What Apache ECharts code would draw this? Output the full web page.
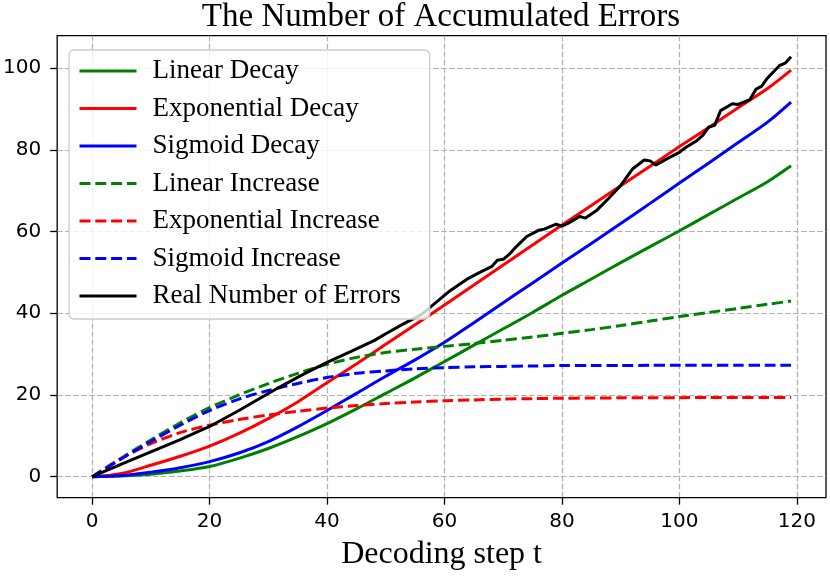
<!DOCTYPE html>
<html>
<head>
<meta charset="utf-8">
<script src="https://cdn.jsdelivr.net/npm/echarts@6/dist/echarts.min.js"></script>
<style>
html,body{margin:0;padding:0;background:#fff;}
#chart{width:830px;height:577px;}
</style>
</head>
<body>
<div id="chart"></div>
<script>
// ---- data ----
var steps = [0,5,10,15,20,25,30,35,40,45,50,55,60,65,70,75,80,85,90,95,100,105,110,115,119];
var linearDecay = [0,0.15,0.6,1.4,2.5,4.5,6.9,9.8,13.0,16.6,20.4,24.2,28.2,32.2,36.2,40.2,44.4,48.4,52.4,56.3,60.2,64.2,68.2,72.2,76.1];
var expDecay = [0,0.8,2.8,5.0,7.5,10.6,14.2,18.3,23.0,27.6,32.4,37.2,42.0,46.9,51.8,56.7,61.6,66.4,71.2,76.0,80.8,85.5,90.3,95.0,99.5];
var sigDecay = [0,0.3,1.1,2.2,3.7,5.8,8.6,12.2,16.2,20.4,24.6,28.6,32.9,37.7,42.6,47.4,52.3,57.1,62.0,66.9,71.9,76.8,81.8,86.8,91.7];
var linearInc = [0,4.6,9.0,13.2,16.9,20.0,22.8,25.3,27.5,29.2,30.4,31.2,31.9,32.6,33.4,34.2,35.1,36.0,37.0,38.1,39.2,40.2,41.2,42.2,43.0];
var expInc = [0,4.5,8.1,10.8,12.6,14.0,15.1,16.0,16.8,17.4,17.9,18.3,18.6,18.8,19.0,19.1,19.2,19.25,19.3,19.3,19.35,19.4,19.4,19.4,19.4];
var sigInc = [0,4.4,8.6,12.6,16.2,19.0,21.1,22.8,24.3,25.3,25.9,26.4,26.7,26.9,27.0,27.1,27.2,27.2,27.2,27.25,27.3,27.3,27.3,27.3,27.3];
var realSteps = [0,5,10,15,20,25,28,32,36,40,44,48,50,53,56,58,61,64,66,68,69,70,71,72,74,76,77,79,80,81,83,84,86,88,90,92,94,95,96,98,100,101,103,104,105,106,107,109,110,112,113,114,115,117,118,119];
var realErrors = [0,3.1,6.1,9.1,12.3,16.2,18.7,22.0,25.1,28.0,30.6,33.3,35.0,37.4,39.6,42.0,45.6,48.5,50.0,51.4,53.0,53.2,54.4,56.0,58.8,60.3,60.6,61.8,61.3,62.0,63.7,63.3,65.3,68.2,71.3,75.3,77.5,77.3,76.3,77.9,79.4,80.5,82.3,83.6,85.6,86.0,89.6,91.3,91.1,92.3,94.8,95.6,97.6,100.6,101.2,102.8];
var xTicks = [0,20,40,60,80,100,120];
var yTicks = [0,20,40,60,80,100];
var names = ['Linear Decay','Exponential Decay','Sigmoid Decay','Linear Increase','Exponential Increase','Sigmoid Increase','Real Number of Errors'];
var titleText = 'The Number of Accumulated Errors';
var xName = 'Decoding step t';

function pairs(xs, ys){ return xs.map(function(x,i){ return [x, ys[i]]; }); }

var serif = '"Liberation Serif", "Times New Roman", serif';
var LW = 3;
var DASH = [11, 4.8];

function mk(name, xs, ys, color, dashed, smooth){
  return {
    name: name, type: 'line', data: pairs(xs, ys),
    showSymbol: false, symbol: 'none', smooth: smooth,
    lineStyle: {color: color, width: LW, type: dashed ? DASH : 'solid', cap: 'butt'},
    itemStyle: {color: color},
    emphasis: {disabled: true}, animation: false
  };
}

var chart = echarts.init(document.getElementById('chart'), null, {renderer: 'canvas'});
var gridLine = {show: true, lineStyle: {color: '#b0b0b0', width: 1.2, type: [5.5, 2.5]}};
chart.setOption({
  animation: false,
  backgroundColor: '#fff',
  graphic: [{
    type: 'text', x: 441, y: 17,
    style: {text: titleText, fontFamily: serif, fontSize: 33, fill: '#000', align: 'center', verticalAlign: 'middle'}
  }],
  grid: {left: 55.7, right: 4, top: 35.7, bottom: 79.3, show: true, borderColor: '#000', borderWidth: 1.3, backgroundColor: 'transparent'},
  legend: {
    data: names, orient: 'vertical', left: 69, top: 50,
    itemWidth: 57, itemHeight: 14, itemGap: 7.5,
    padding: [6, 29, 8, 9],
    backgroundColor: 'rgba(255,255,255,0.8)', borderColor: '#cccccc', borderWidth: 1.3, borderRadius: 5,
    textStyle: {fontFamily: serif, fontSize: 27, color: '#000', lineHeight: 30, padding: [0,0,0,11]},
    itemStyle: {opacity: 0},
    lineStyle: {width: LW},
    selectedMode: false
  },
  xAxis: {
    type: 'value', min: -5.95, max: 124.95,
    name: xName, nameLocation: 'middle', nameGap: 41,
    nameTextStyle: {fontFamily: serif, fontSize: 32, color: '#000'},
    axisLine: {show: false, onZero: false},
    axisTick: {show: true, length: 7, lineStyle: {color: '#000', width: 1.3}, customValues: xTicks},
    axisLabel: {fontFamily: 'DejaVu Sans', fontSize: 20, color: '#000', margin: 14, customValues: xTicks},
    splitLine: gridLine
  },
  yAxis: {
    type: 'value', min: -5.14, max: 107.94,
    axisLine: {show: false, onZero: false},
    axisTick: {show: true, length: 7, lineStyle: {color: '#000', width: 1.3}, customValues: yTicks},
    axisLabel: {fontFamily: 'DejaVu Sans', fontSize: 20, color: '#000', margin: 16, customValues: yTicks},
    splitLine: gridLine
  },
  series: [
    mk(names[0], steps, linearDecay, '#008000', false, 0.3),
    mk(names[1], steps, expDecay, '#ff0000', false, 0.3),
    mk(names[2], steps, sigDecay, '#0000ff', false, 0.3),
    mk(names[3], steps, linearInc, '#008000', true, 0.3),
    mk(names[4], steps, expInc, '#ff0000', true, 0.3),
    mk(names[5], steps, sigInc, '#0000ff', true, 0.3),
    mk(names[6], realSteps, realErrors, '#000000', false, false)
  ]
});
</script>
</body>
</html>
